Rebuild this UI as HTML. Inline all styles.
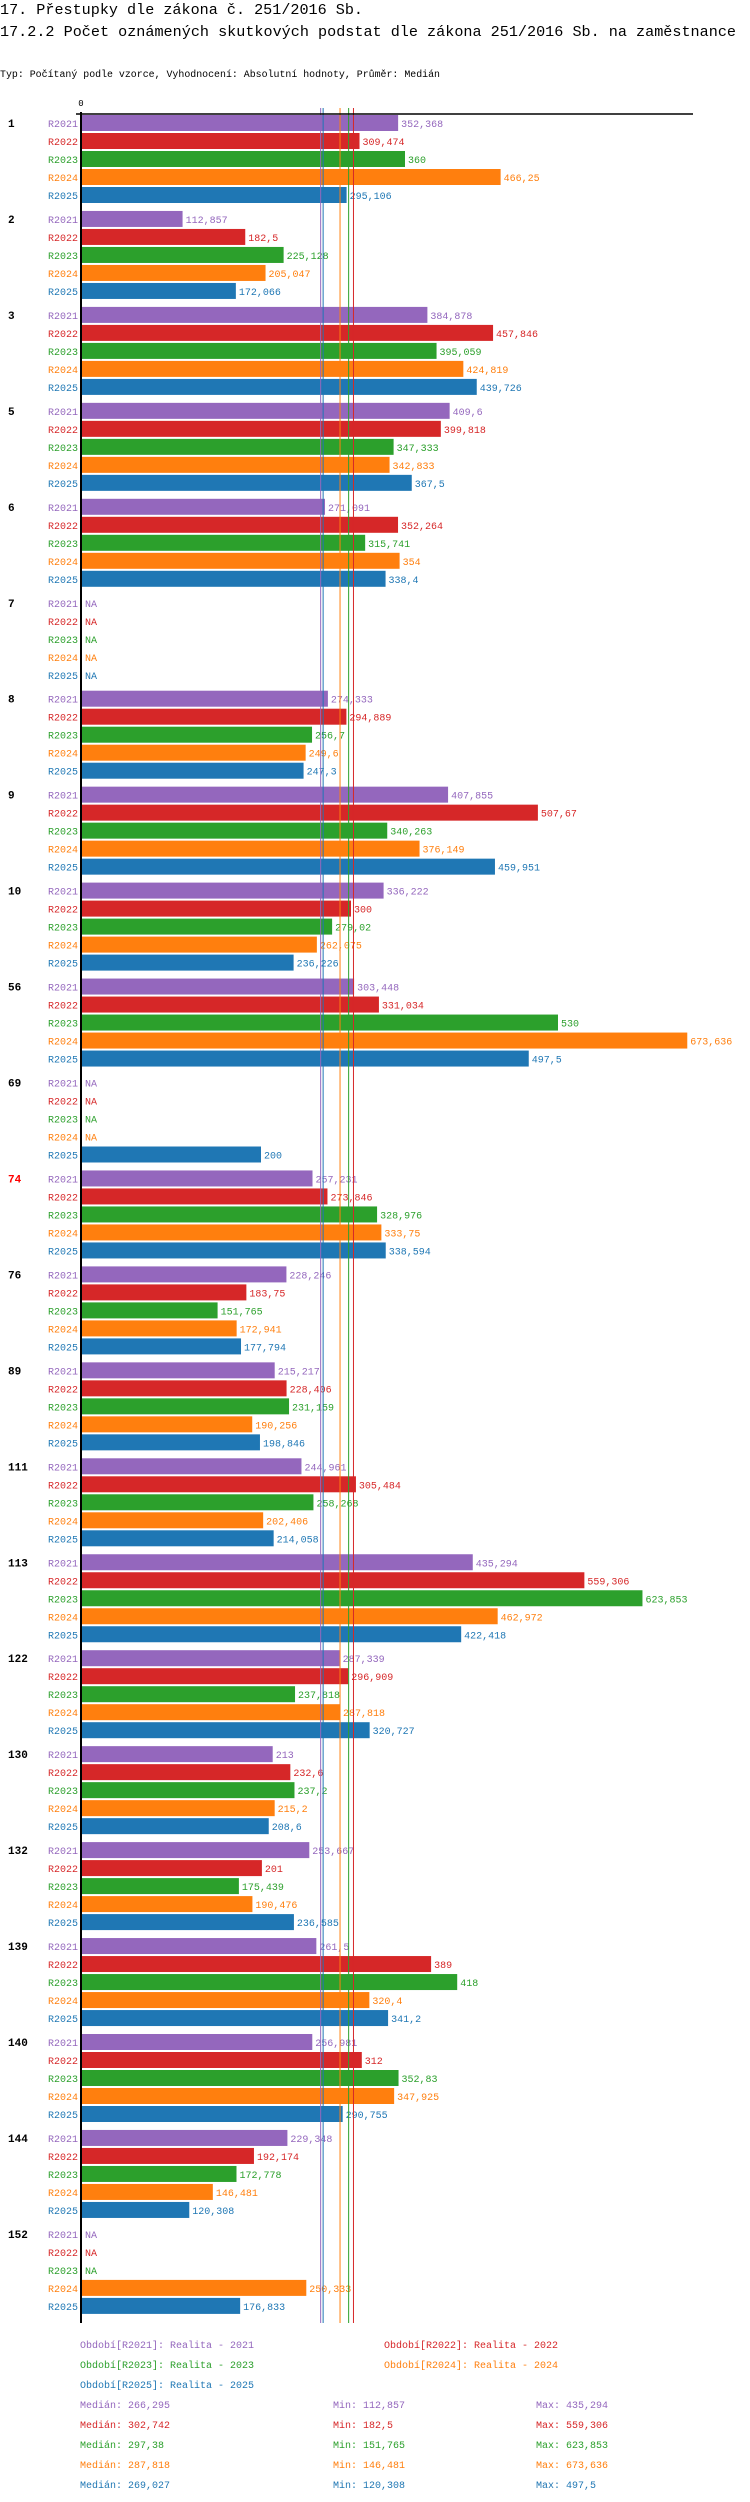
<!DOCTYPE html>
<html><head><meta charset="utf-8">
<style>
body{margin:0;background:#fff;width:750px;height:2502px;overflow:hidden;font-family:"Liberation Mono",monospace;}
</style></head>
<body>
<svg id="chart" width="750" height="2502" style="position:absolute;left:0;top:0" xmlns="http://www.w3.org/2000/svg">
<text x="0" y="14" font-family="Liberation Mono, monospace" font-size="15" textLength="363" lengthAdjust="spacingAndGlyphs">17. Přestupky dle zákona č. 251/2016 Sb.</text>
<text x="0" y="36" font-family="Liberation Mono, monospace" font-size="15" textLength="736" lengthAdjust="spacingAndGlyphs">17.2.2 Počet oznámených skutkových podstat dle zákona 251/2016 Sb. na zaměstnance</text>
<text x="0" y="77" font-family="Liberation Mono, monospace" font-size="10" textLength="440" lengthAdjust="spacingAndGlyphs">Typ: Počítaný podle vzorce, Vyhodnocení: Absolutní hodnoty, Průměr: Medián</text>
</svg>
<script>
const groups=["1","2","3","5","6","7","8","9","10","56","69","74","76","89","111","113","122","130","132","139","140","144","152"];
const series=["R2021","R2022","R2023","R2024","R2025"];
const colors=["#9467bd","#d62728","#2ca02c","#ff7f0e","#1f77b4"];
const r2021=[352.368,112.857,384.878,409.6,271.091,null,274.333,407.855,336.222,303.448,null,257.231,228.246,215.217,244.961,435.294,287.339,213,253.667,261.5,256.981,229.348,null];
const r2022=[309.474,182.5,457.846,399.818,352.264,null,294.889,507.67,300,331.034,null,273.846,183.75,228.406,305.484,559.306,296.909,232.6,201,389,312,192.174,null];
const r2023=[360,225.128,395.059,347.333,315.741,null,256.7,340.263,279.02,530,null,328.976,151.765,231.159,258.268,623.853,237.818,237.2,175.439,418,352.83,172.778,null];
const r2024=[466.25,205.047,424.819,342.833,354,null,249.6,376.149,262.075,673.636,null,333.75,172.941,190.256,202.406,462.972,287.818,215.2,190.476,320.4,347.925,146.481,250.333];
const r2025=[295.106,172.066,439.726,367.5,338.4,null,247.3,459.951,236.226,497.5,200,338.594,177.794,198.846,214.058,422.418,320.727,208.6,236.585,341.2,290.755,120.308,176.833];
const medians=[266.295,302.742,297.38,287.818,269.027];
const mins=[112.857,182.5,151.765,146.481,120.308];
const maxs=[435.294,559.306,623.853,673.636,497.5];
const highlightGroup="74";
const data=[r2021,r2022,r2023,r2024,r2025];

const svg=document.getElementById('chart');
const NS="http://www.w3.org/2000/svg";
const X0=81, PX=0.9, TOP=115, GP=95.95, BP=18, BH=16, AXBOT=2323;
const x=v=>X0+v*PX;
const fmt=v=>String(v).replace('.',',');
function mk(tag,attrs,txt){const e=document.createElementNS(NS,tag);for(const k in attrs)e.setAttribute(k,attrs[k]);if(txt!==undefined)e.textContent=txt;svg.appendChild(e);return e;}

groups.forEach((g,gi)=>{
  const gy=TOP+gi*GP;
  const gl=mk('text',{x:8,y:gy+12,'font-family':'Liberation Mono, monospace','font-size':11,'font-weight':'bold',fill:g===highlightGroup?'#ff0000':'#000'},g);
  
  
  series.forEach((s,si)=>{
    const y=gy+si*BP;
    const sl=mk('text',{x:78,y:y+12,'text-anchor':'end','font-family':'Liberation Mono, monospace','font-size':10,fill:colors[si]},s);
    
    
    const v=data[si][gi];
    if(v===null){
      const na=mk('text',{x:85,y:y+12,'font-family':'Liberation Mono, monospace','font-size':10,fill:colors[si]},'NA');
      
      
      return;
    }
    const r=mk('rect',{x:X0,y:y,width:x(v)-X0,height:BH,fill:colors[si]});
    
    
    const vl=mk('text',{x:x(v)+3,y:y+12,'font-family':'Liberation Mono, monospace','font-size':10,fill:colors[si]},fmt(v));
    
    
  });
});
medians.forEach((m,i)=>{
  const l=mk('line',{x1:x(m),x2:x(m),y1:108,y2:AXBOT,stroke:colors[i],'stroke-width':1});
  
  
});
const ax=mk('line',{x1:76,x2:693,y1:114,y2:114,stroke:'#000','stroke-width':1.5});


const ay=mk('line',{x1:X0,x2:X0,y1:112,y2:AXBOT,stroke:'#000','stroke-width':2});


const z=mk('text',{x:X0,y:106,'text-anchor':'middle','font-family':'Liberation Mono, monospace','font-size':9,fill:'#000'},'0');


const legPos=[[80,2348],[384,2348],[80,2368],[384,2368],[80,2388]];
series.forEach((s,i)=>{
  const t=mk('text',{x:legPos[i][0],y:legPos[i][1],'font-family':'Liberation Mono, monospace','font-size':10,fill:colors[i]},'Období['+s+']: Realita - '+s.slice(1));
  
  
});
series.forEach((s,i)=>{
  const y=2408+i*20;
  const a=mk('text',{x:80,y:y,'font-family':'Liberation Mono, monospace','font-size':10,fill:colors[i]},'Medián: '+fmt(medians[i]));
  
  
  const b=mk('text',{x:333,y:y,'font-family':'Liberation Mono, monospace','font-size':10,fill:colors[i]},'Min: '+fmt(mins[i]));
  
  
  const c=mk('text',{x:536,y:y,'font-family':'Liberation Mono, monospace','font-size':10,fill:colors[i]},'Max: '+fmt(maxs[i]));
  
  
});
</script>
</body></html>
